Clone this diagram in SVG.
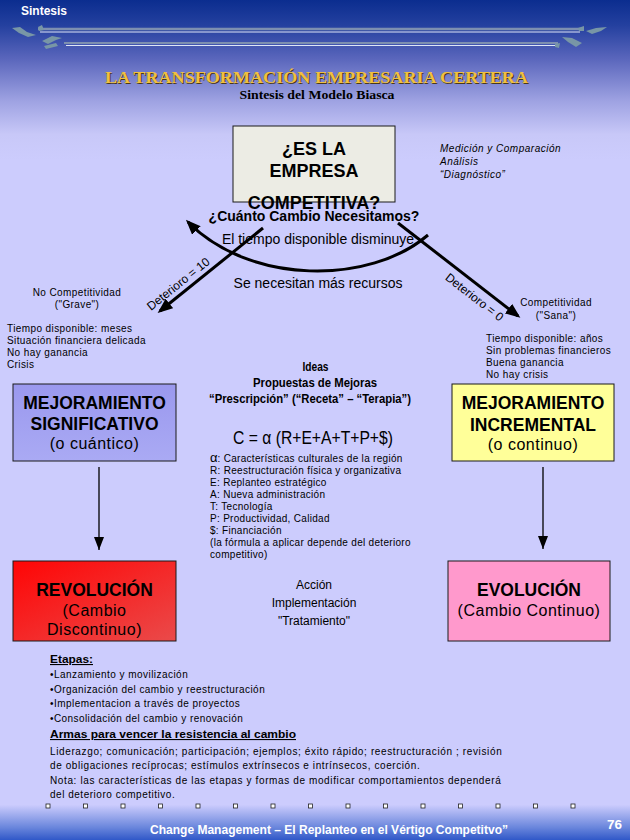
<svg xmlns="http://www.w3.org/2000/svg" width="630" height="840" viewBox="0 0 630 840">
<defs>
<linearGradient id="bg" x1="0" y1="0" x2="0" y2="1">
<stop offset="0" stop-color="#0b2d8f"/>
<stop offset="0.03" stop-color="#24409f"/>
<stop offset="0.07" stop-color="#5a66bc"/>
<stop offset="0.12" stop-color="#9ea2e2"/>
<stop offset="0.16" stop-color="#c8c8f8"/>
<stop offset="0.19" stop-color="#ccccfd"/>
<stop offset="0.958" stop-color="#ccccfd"/>
<stop offset="0.985" stop-color="#6a86dc"/>
<stop offset="1" stop-color="#3058c8"/>
</linearGradient>
<linearGradient id="gSig" x1="0" y1="0" x2="0" y2="1">
<stop offset="0" stop-color="#9a98ee"/>
<stop offset="1" stop-color="#aaaaf4"/>
</linearGradient>
<linearGradient id="gRev" x1="0" y1="0" x2="1" y2="1">
<stop offset="0" stop-color="#ff0505"/>
<stop offset="1" stop-color="#ea4a4a"/>
</linearGradient>
<marker id="ahThick" markerUnits="userSpaceOnUse" markerWidth="15" markerHeight="12" refX="12" refY="6" orient="auto">
<path d="M0,0 L15,6 L0,12 z" fill="#000"/>
</marker>
<marker id="ahThin" markerUnits="userSpaceOnUse" markerWidth="13" markerHeight="10" refX="13" refY="5" orient="auto">
<path d="M0,0 L13,5 L0,10 z" fill="#000"/>
</marker>
<style>
text{font-family:"Liberation Sans",Arial,sans-serif;fill:#000}
.sm{font-size:10px;letter-spacing:0.4px}
.hd{font-size:17.5px;font-weight:bold;text-anchor:middle}
.sub{font-size:16px;letter-spacing:0.5px;text-anchor:middle}
.q{font-size:18px;font-weight:bold;text-anchor:middle}
.mid14{font-size:14px;text-anchor:middle}
.box{stroke:#1a1a1a;stroke-width:1}
.thick{fill:none;stroke:#000;stroke-width:3}
.thin{fill:none;stroke:#000;stroke-width:1.3}
.bt{font-size:10px;letter-spacing:0.3px}
.deco{stroke:#7d8fb0}
.decol{stroke:#dfe6f6}
.flour{fill:#7896a6}
.sq{fill:#fff;stroke:#222;stroke-width:0.8}
</style>
</defs>

<rect x="0" y="0" width="630" height="840" fill="url(#bg)"/>

<g id="header">
<text x="21" y="15" font-size="12" font-weight="bold" style="fill:#fff" textLength="46">Sintesis</text>
<line class="deco" x1="38" y1="29" x2="582" y2="29" stroke-width="2.5"/>
<line class="decol" x1="40" y1="32" x2="580" y2="32" stroke-width="1.2"/>
<line class="deco" x1="64" y1="43" x2="558" y2="43" stroke-width="2"/>
<line class="decol" x1="66" y1="45.5" x2="556" y2="45.5" stroke-width="1"/>
<polygon class="flour" points="12,28 20,27 27,32 36,35 28,37 19,33"/>
<polygon class="flour" points="38,27 42,25 44,30 39,31"/>
<polygon class="flour" points="42,41 52,36 62,38 56,40 48,44"/>
<polygon class="flour" points="44,46 56,43 58,46 46,49"/>
<polygon class="flour" points="586,31 596,28 607,27 601,31 592,34"/>
<polygon class="flour" points="578,28 584,26 584,31 579,31"/>
<polygon class="flour" points="562,37 572,38 582,43 576,47 568,42"/>
<polygon class="flour" points="555,44 560,43 559,48 555,47"/>
</g>

<g id="title">
<text x="317.5" y="83.5" font-family="Liberation Serif,serif" font-size="17" font-weight="bold" text-anchor="middle" textLength="423" lengthAdjust="spacingAndGlyphs" style="font-family:'Liberation Serif',serif;fill:#4a3818">LA TRANSFORMACIÓN EMPRESARIA CERTERA</text>
<text x="316.5" y="82.5" font-size="17" font-weight="bold" text-anchor="middle" textLength="423" lengthAdjust="spacingAndGlyphs" style="font-family:'Liberation Serif',serif;fill:#f0c040">LA TRANSFORMACIÓN EMPRESARIA CERTERA</text>
<text x="317" y="99" font-size="13" font-weight="bold" text-anchor="middle" textLength="155" lengthAdjust="spacingAndGlyphs" style="font-family:'Liberation Serif',serif">Sintesis del Modelo Biasca</text>
</g>

<g id="connectors">
<path class="thick" d="M428,235 C370,285 250,285 188,222" marker-end="url(#ahThick)"/>
<line class="thick" x1="263" y1="228" x2="160" y2="311" marker-end="url(#ahThick)"/>
<line class="thick" x1="398" y1="223" x2="518" y2="316" marker-end="url(#ahThick)"/>
<line class="thin" x1="99" y1="467" x2="99" y2="550" marker-end="url(#ahThin)"/>
<line class="thin" x1="543" y1="467" x2="543" y2="549" marker-end="url(#ahThin)"/>
</g>

<g id="question">
<rect class="box" x="233" y="126" width="162" height="76" fill="#ecece4"/>
<text class="q" x="314" y="155">¿ES LA</text>
<text class="q" x="314" y="177">EMPRESA</text>
<text class="q" x="314" y="209">COMPETITIVA?</text>
<text x="314" y="221" font-size="14" font-weight="bold" text-anchor="middle">¿Cuánto Cambio Necesitamos?</text>
<text class="mid14" x="318" y="244">El tiempo disponible disminuye</text>
<text class="mid14" x="318" y="288">Se necesitan más recursos</text>
</g>

<g id="diagnosis">
<text x="440" y="152" font-size="10" font-style="italic" letter-spacing="0.5">Medición y Comparación</text>
<text x="440" y="165" font-size="10" font-style="italic" letter-spacing="0.5">Análisis</text>
<text x="440" y="178" font-size="10" font-style="italic" letter-spacing="0.5">“Diagnóstico”</text>
</g>

<g id="deterioro-labels">
<text font-size="12" transform="translate(151,311) rotate(-38.7)">Deterioro = 10</text>
<text font-size="12" transform="translate(444.5,279) rotate(37.9)">Deterioro = 0</text>
</g>

<g id="left-state">
<text class="sm" x="77" y="296" text-anchor="middle">No Competitividad</text>
<text class="sm" x="77" y="308" text-anchor="middle">("Grave")</text>
<text class="sm" x="7" y="332">Tiempo disponible: meses</text>
<text class="sm" x="7" y="344">Situación financiera delicada</text>
<text class="sm" x="7" y="356">No hay ganancia</text>
<text class="sm" x="7" y="368">Crisis</text>
</g>

<g id="right-state">
<text class="sm" x="556" y="306" text-anchor="middle">Competitividad</text>
<text class="sm" x="556" y="318.5" text-anchor="middle">("Sana")</text>
<text class="sm" x="486" y="342">Tiempo disponible: años</text>
<text class="sm" x="486" y="354">Sin problemas financieros</text>
<text class="sm" x="486" y="366">Buena ganancia</text>
<text class="sm" x="486" y="378">No hay crisis</text>
</g>

<g id="ideas">
<text x="315.5" y="371" font-size="12.5" font-weight="bold" text-anchor="middle" textLength="26" lengthAdjust="spacingAndGlyphs">Ideas</text>
<text x="315" y="387" font-size="12.5" font-weight="bold" text-anchor="middle" textLength="124" lengthAdjust="spacingAndGlyphs">Propuestas de Mejoras</text>
<text x="310" y="403" font-size="12.5" font-weight="bold" text-anchor="middle" textLength="202" lengthAdjust="spacingAndGlyphs">“Prescripción” (“Receta” – “Terapia”)</text>
<text x="313" y="444" font-size="18" text-anchor="middle" textLength="160" lengthAdjust="spacingAndGlyphs">C = α (R+E+A+T+P+$)</text>
<text class="bt" x="210" y="462"><tspan font-size="13" letter-spacing="0">α</tspan>: Características culturales de la región</text>
<text class="bt" x="210" y="474">R: Reestructuración física y organizativa</text>
<text class="bt" x="210" y="486">E: Replanteo estratégico</text>
<text class="bt" x="210" y="498">A: Nueva administración</text>
<text class="bt" x="210" y="510">T: Tecnología</text>
<text class="bt" x="210" y="522">P: Productividad, Calidad</text>
<text class="bt" x="210" y="534">$: Financiación</text>
<text class="bt" x="210" y="546">(la fórmula a aplicar depende del deterioro</text>
<text class="bt" x="210" y="558">competitivo)</text>
</g>

<g id="box-significativo">
<rect class="box" x="13" y="384" width="163" height="77" fill="url(#gSig)"/>
<text class="hd" x="94.5" y="409">MEJORAMIENTO</text>
<text class="hd" x="94.5" y="430">SIGNIFICATIVO</text>
<text class="sub" x="94.5" y="449">(o cuántico)</text>
</g>

<g id="box-incremental">
<rect class="box" x="452" y="384" width="162" height="77" fill="#ffff99"/>
<text class="hd" x="533" y="409">MEJORAMIENTO</text>
<text class="hd" x="533" y="431">INCREMENTAL</text>
<text class="sub" x="533" y="450">(o continuo)</text>
</g>

<g id="box-revolucion">
<rect class="box" x="13" y="561" width="163" height="80" fill="url(#gRev)"/>
<text class="hd" x="94.5" y="596">REVOLUCIÓN</text>
<text class="sub" x="94.5" y="616">(Cambio</text>
<text class="sub" x="94.5" y="635">Discontinuo)</text>
</g>

<g id="box-evolucion">
<rect class="box" x="448" y="561" width="162" height="80" fill="#ff99cc"/>
<text class="hd" x="529" y="596">EVOLUCIÓN</text>
<text class="sub" x="529" y="616">(Cambio Continuo)</text>
</g>

<g id="action">
<text x="314" y="589" font-size="12" text-anchor="middle">Acción</text>
<text x="314" y="607" font-size="12" text-anchor="middle">Implementación</text>
<text x="314" y="625" font-size="12" text-anchor="middle">"Tratamiento"</text>
</g>

<g id="stages">
<text x="50" y="663" font-size="11" font-weight="bold" text-decoration="underline" textLength="43" lengthAdjust="spacingAndGlyphs">Etapas:</text>
<text class="bt" x="50" y="678" textLength="138">•Lanzamiento y movilización</text>
<text class="bt" x="50" y="693" textLength="215">•Organización del cambio y reestructuración</text>
<text class="bt" x="50" y="707" textLength="190">•Implementacion a través de proyectos</text>
<text class="bt" x="50" y="722" textLength="193">•Consolidación del cambio y renovación</text>
<text x="50" y="738" font-size="11" font-weight="bold" text-decoration="underline" textLength="246" lengthAdjust="spacingAndGlyphs">Armas para vencer la resistencia al cambio</text>
<text class="bt" x="50" y="755" textLength="452">Liderazgo; comunicación; participación; ejemplos; éxito rápido; reestructuración ; revisión</text>
<text class="bt" x="50" y="769" textLength="370">de obligaciones recíprocas; estímulos extrínsecos e intrínsecos, coerción.</text>
<text class="bt" x="50" y="784" textLength="451">Nota: las características de las etapas y formas de modificar comportamientos dependerá</text>
<text class="bt" x="50" y="798" textLength="125">del deterioro competitivo.</text>
</g>

<g id="footer">
<rect class="sq" x="46" y="804" width="4" height="4"/>
<rect class="sq" x="83.5" y="804" width="4" height="4"/>
<rect class="sq" x="121" y="804" width="4" height="4"/>
<rect class="sq" x="158.5" y="804" width="4" height="4"/>
<rect class="sq" x="196" y="804" width="4" height="4"/>
<rect class="sq" x="233.5" y="804" width="4" height="4"/>
<rect class="sq" x="271" y="804" width="4" height="4"/>
<rect class="sq" x="308.5" y="804" width="4" height="4"/>
<rect class="sq" x="346" y="804" width="4" height="4"/>
<rect class="sq" x="383.5" y="804" width="4" height="4"/>
<rect class="sq" x="421" y="804" width="4" height="4"/>
<rect class="sq" x="458.5" y="804" width="4" height="4"/>
<rect class="sq" x="496" y="804" width="4" height="4"/>
<rect class="sq" x="533.5" y="804" width="4" height="4"/>
<rect class="sq" x="571" y="804" width="4" height="4"/>
<text x="329" y="834" font-size="13" font-weight="bold" text-anchor="middle" textLength="358" lengthAdjust="spacingAndGlyphs" style="fill:#fff">Change Management – El Replanteo en el Vértigo Competitvo”</text>
<text x="607" y="829" font-size="13" font-weight="bold" textLength="15" lengthAdjust="spacingAndGlyphs" style="fill:#fff">76</text>
</g>
</svg>
